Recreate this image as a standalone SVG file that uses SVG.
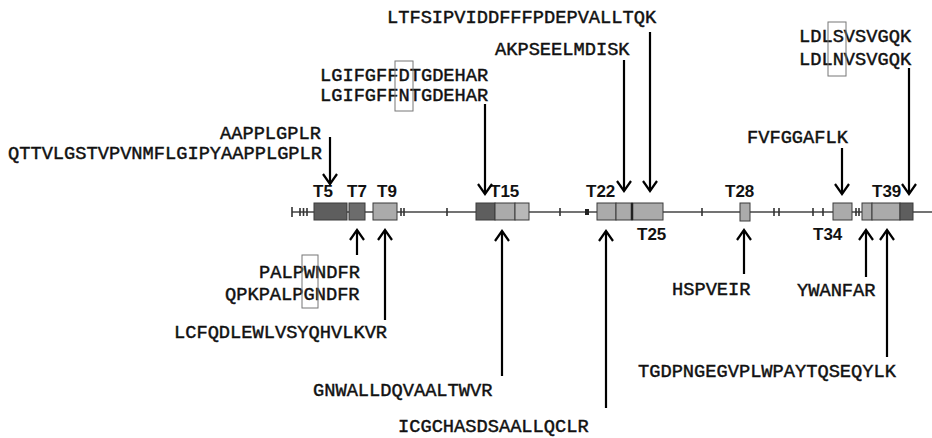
<svg xmlns="http://www.w3.org/2000/svg" width="932" height="438" viewBox="0 0 932 438">
<defs>
<marker id="ah" markerUnits="userSpaceOnUse" markerWidth="24" markerHeight="24" viewBox="-12 -12 24 24" refX="0" refY="0" orient="auto">
<path d="M-10,-7 L0,0 L-10,7" fill="none" stroke="#000" stroke-width="2.2" stroke-linejoin="miter"/>
</marker>
</defs>
<style>
.pep{font-family:"Liberation Mono","Courier New",monospace;font-size:18.7px;fill:#111;stroke:#111;stroke-width:0.45}
.lab{font-family:"Liberation Sans",Arial,sans-serif;font-size:17px;font-weight:bold;fill:#111}
.ex{stroke:#3a3a3a;stroke-width:1}
.dk{fill:#5e5e5e}
.md{fill:#6c6c6c}
.lt{fill:#ababab}
.lt2{fill:#b8b8b8}
.tick{stroke:#333;stroke-width:1.6}
.arr{stroke:#000;stroke-width:2.2;fill:none;marker-end:url(#ah)}
.hl{fill:none;stroke:#777;stroke-width:1}
</style>
<rect width="932" height="438" fill="#fff"/>

<g id="gene">
<line x1="292" y1="212" x2="932" y2="212" stroke="#444" stroke-width="1.6"/>
<g class="tick">
<line x1="292" y1="207" x2="292" y2="217"/>
<line x1="300" y1="208" x2="300" y2="216"/>
<line x1="303.5" y1="208" x2="303.5" y2="216"/>
<line x1="307" y1="208" x2="307" y2="216"/>
<line x1="401" y1="208" x2="401" y2="216"/>
<line x1="404" y1="208" x2="404" y2="216"/>
<line x1="447" y1="208" x2="447" y2="216"/>
<line x1="560" y1="208" x2="560" y2="216"/>
<line x1="702" y1="208" x2="702" y2="216"/>
<line x1="774" y1="208" x2="774" y2="216"/>
<line x1="779" y1="208" x2="779" y2="216"/>
<line x1="813" y1="208" x2="813" y2="216"/>
<line x1="823" y1="208" x2="823" y2="216"/>
<line x1="856" y1="208" x2="856" y2="216"/>
<line x1="859" y1="208" x2="859" y2="216"/>
</g>
<rect x="585" y="209" width="4" height="6" fill="#222"/>
</g>

<g id="T5"><rect class="ex dk" x="314" y="203" width="33" height="17"/><text class="lab" x="313" y="197">T5</text></g>
<g id="T7"><rect class="ex md" x="349" y="203" width="16" height="17"/><text class="lab" x="347" y="197">T7</text></g>
<g id="T9"><rect class="ex lt" x="373" y="203" width="24" height="17"/><text class="lab" x="377" y="197">T9</text></g>
<g id="T15">
<rect class="ex dk" x="476" y="203" width="19" height="17"/>
<rect class="ex lt" x="495" y="203" width="20" height="17"/>
<rect class="ex lt2" x="515" y="203" width="14" height="17"/>
<text class="lab" x="490" y="197">T15</text>
</g>
<g id="T22"><rect class="ex lt" x="597" y="203" width="19" height="17"/><rect class="ex lt" x="616" y="203" width="16" height="17"/><text class="lab" x="586" y="197">T22</text></g>
<g id="T25"><rect class="ex lt" x="632" y="203" width="31" height="17"/><line x1="632" y1="203" x2="632" y2="220" stroke="#222" stroke-width="2.5"/><text class="lab" x="637" y="240">T25</text></g>
<g id="T28"><rect class="ex lt" x="740" y="203" width="10" height="18"/><text class="lab" x="725" y="197">T28</text></g>
<g id="T34"><rect class="ex lt" x="833" y="203" width="19" height="17"/><text class="lab" x="813" y="240">T34</text></g>
<g id="T39">
<rect class="ex lt" x="862" y="203" width="10" height="17"/>
<rect class="ex lt" x="872" y="203" width="28" height="17"/>
<rect class="ex dk" x="900" y="203" width="13" height="17"/>
<text class="lab" x="872" y="197">T39</text>
</g>

<g id="pep-LTFSIPV"><text class="pep" x="387" y="23">LTFSIPVIDDFFFPDEPVALLTQK</text></g>
<g id="pep-AKPSEELMDISK"><text class="pep" x="495" y="55">AKPSEELMDISK</text></g>
<g id="pep-LGIFGFF">
<text class="pep" x="320" y="81">LGIFGFFDTGDEHAR</text>
<text class="pep" x="320" y="101">LGIFGFFNTGDEHAR</text>
<rect class="hl" x="395" y="61" width="18" height="50"/>
</g>
<g id="pep-AAPPLGPLR">
<text class="pep" x="220" y="139">AAPPLGPLR</text>
<text class="pep" x="8" y="159">QTTVLGSTVPVNMFLGIPYAAPPLGPLR</text>
</g>
<g id="pep-LDLSVSVGQK">
<text class="pep" x="799" y="42">LDLSVSVGQK</text>
<text class="pep" x="799" y="65">LDLNVSVGQK</text>
<rect class="hl" x="828" y="22" width="18" height="54"/>
</g>
<g id="pep-FVFGGAFLK"><text class="pep" x="747" y="143">FVFGGAFLK</text></g>
<g id="pep-PALPWNDFR">
<text class="pep" x="259" y="278">PALPWNDFR</text>
<text class="pep" x="225" y="300">QPKPALPGNDFR</text>
<rect class="hl" x="302" y="255" width="16" height="53"/>
</g>
<g id="pep-LCFQ"><text class="pep" x="174" y="338">LCFQDLEWLVSYQHVLKVR</text></g>
<g id="pep-GNWALL"><text class="pep" x="313" y="396">GNWALLDQVAALTWVR</text></g>
<g id="pep-ICGCHAS"><text class="pep" x="398" y="432">ICGCHASDSAALLQCLR</text></g>
<g id="pep-HSPVEIR"><text class="pep" x="672" y="295">HSPVEIR</text></g>
<g id="pep-YWANFAR"><text class="pep" x="797" y="296">YWANFAR</text></g>
<g id="pep-TGDPN"><text class="pep" x="638" y="377">TGDPNGEGVPLWPAYTQSEQYLK</text></g>

<g id="connectors">
<line class="arr" x1="330" y1="137" x2="330" y2="184"/>
<line class="arr" x1="485" y1="104" x2="485" y2="194"/>
<line class="arr" x1="624" y1="60" x2="624" y2="191"/>
<line class="arr" x1="650" y1="32" x2="650" y2="191"/>
<line class="arr" x1="842" y1="148" x2="842" y2="194"/>
<line class="arr" x1="909" y1="68" x2="909" y2="194"/>
<line class="arr" x1="357" y1="255" x2="357" y2="230"/>
<line class="arr" x1="385" y1="320" x2="385" y2="230"/>
<line class="arr" x1="502" y1="376" x2="502" y2="231"/>
<line class="arr" x1="606" y1="408" x2="606" y2="231"/>
<line class="arr" x1="744" y1="274" x2="744" y2="230"/>
<line class="arr" x1="866" y1="277" x2="866" y2="230"/>
<line class="arr" x1="887" y1="357" x2="887" y2="230"/>
</g>
</svg>
